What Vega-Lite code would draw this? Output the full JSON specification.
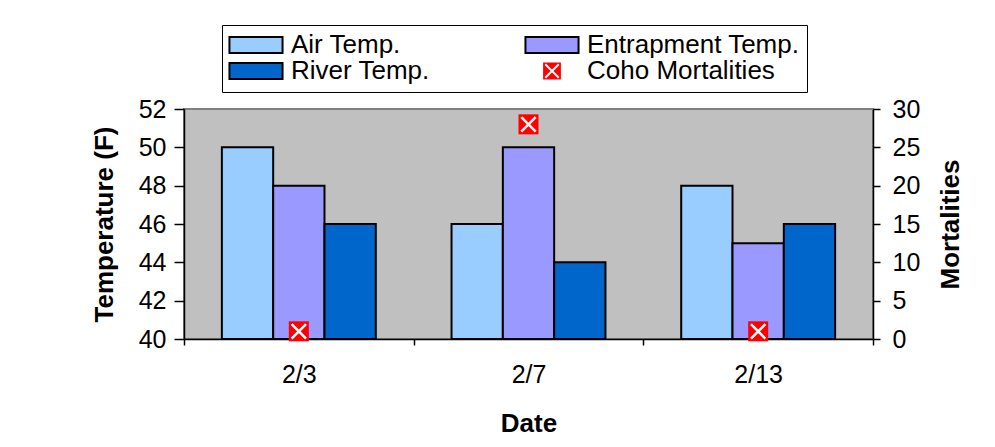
{
  "$schema": "https://vega.github.io/schema/vega-lite/v6.json",
  "width": 689,
  "height": 230,
  "autosize": {"type": "none"},
  "padding": {"left": 184, "top": 109, "right": 122, "bottom": 108},
  "background": "white",
  "config": {
    "font": "Liberation Sans",
    "view": {"fill": "#C0C0C0", "stroke": "#808080", "strokeWidth": 2},
    "axis": {
      "labelFont": "Liberation Sans",
      "labelFontSize": 25,
      "labelColor": "black",
      "titleFont": "Liberation Sans",
      "titleFontSize": 26,
      "titleFontWeight": "bold",
      "titleColor": "black",
      "domainColor": "black",
      "domainWidth": 1.5,
      "tickColor": "black",
      "tickWidth": 1.5,
      "grid": false
    }
  },
  "datasets": {
    "temps": [
      {"date": "2/3", "series": "Air Temp.", "temp": 50},
      {"date": "2/3", "series": "Entrapment Temp.", "temp": 48},
      {"date": "2/3", "series": "River Temp.", "temp": 46},
      {"date": "2/7", "series": "Air Temp.", "temp": 46},
      {"date": "2/7", "series": "Entrapment Temp.", "temp": 50},
      {"date": "2/7", "series": "River Temp.", "temp": 44},
      {"date": "2/13", "series": "Air Temp.", "temp": 48},
      {"date": "2/13", "series": "Entrapment Temp.", "temp": 45},
      {"date": "2/13", "series": "River Temp.", "temp": 46}
    ],
    "mort": [
      {"date": "2/3", "mort": 1},
      {"date": "2/7", "mort": 28},
      {"date": "2/13", "mort": 1}
    ]
  },
  "layer": [
    {
      "data": {"name": "temps"},
      "mark": {"type": "bar", "stroke": "black", "strokeWidth": 2},
      "encoding": {
        "x": {
          "field": "date", "type": "nominal", "sort": ["2/3", "2/7", "2/13"],
          "scale": {"type": "band", "paddingInner": 0, "paddingOuter": 0},
          "axis": {"title": "Date", "labelAngle": 0, "tickBand": "extent", "tickSize": 6, "labelPadding": 17, "titlePadding": 23}
        },
        "xOffset": {
          "field": "series", "type": "nominal",
          "sort": ["Air Temp.", "Entrapment Temp.", "River Temp."],
          "scale": {"paddingInner": 0, "paddingOuter": 0.738}
        },
        "y": {
          "field": "temp", "type": "quantitative",
          "scale": {"domain": [40, 52], "zero": false, "nice": false},
          "axis": {"title": "Temperature (F)", "values": [40, 42, 44, 46, 48, 50, 52], "tickSize": 10, "labelPadding": 8, "titlePadding": 21}
        },
        "y2": {"datum": 40},
        "color": {
          "field": "series", "type": "nominal",
          "scale": {
            "domain": ["Air Temp.", "River Temp.", "Entrapment Temp.", "Coho Mortalities"],
            "range": ["#99CCFF", "#0066CC", "#9999FF", "#FF0000"]
          },
          "legend": {
            "orient": "none",
            "legendX": 38,
            "legendY": -84,
            "columns": 2,
            "title": null,
            "labelFont": "Liberation Sans",
            "labelFontSize": 26,
            "labelColor": "black",
            "labelOffset": 22,
            "labelLimit": 400,
            "symbolSize": 324,
            "symbolOffset": 14,
            "symbolType": "M-2.95,-0.9H2.95V0.9H-2.95Z",
            "symbolStrokeColor": "black",
            "symbolStrokeWidth": 2,
            "symbolOpacity": 1,
            "rowPadding": -12,
            "columnPadding": 91,
            "padding": 7,
            "strokeColor": "black",
            "fillColor": "white",
            "encode": {
              "symbols": {
                "update": {
                  "shape": {"signal": "datum.value === 'Coho Mortalities' ? 'M-1.1,-1.05H1.1V1.05H-1.1Z M-0.75,-0.75L0.75,0.75 M-0.75,0.75L0.75,-0.75' : 'M-2.95,-0.9H2.95V0.9H-2.95Z'"},
                  "stroke": {"signal": "datum.value === 'Coho Mortalities' ? 'white' : 'black'"}
                }
              }
            }
          }
        }
      }
    },
    {
      "data": {"name": "mort"},
      "encoding": {
        "x": {
          "field": "date", "type": "nominal", "sort": ["2/3", "2/7", "2/13"],
          "scale": {"type": "band", "paddingInner": 0, "paddingOuter": 0}
        },
        "y": {
          "field": "mort", "type": "quantitative",
          "scale": {"domain": [0, 30], "nice": false},
          "axis": {"title": "Mortalities", "orient": "right", "titleAngle": 270, "titleBaseline": "top", "values": [0, 5, 10, 15, 20, 25, 30], "tickSize": 7, "labelPadding": 12, "titlePadding": 18}
        }
      },
      "layer": [
        {"mark": {"type": "point", "shape": "square", "filled": true, "size": 400, "color": "#FF0000", "opacity": 1}},
        {"mark": {"type": "point", "shape": "M-0.72,-0.72L0.72,0.72M-0.72,0.72L0.72,-0.72", "filled": false, "stroke": "white", "strokeWidth": 2.5, "size": 400, "opacity": 1}}
      ]
    }
  ],
  "resolve": {"scale": {"y": "independent"}}
}
